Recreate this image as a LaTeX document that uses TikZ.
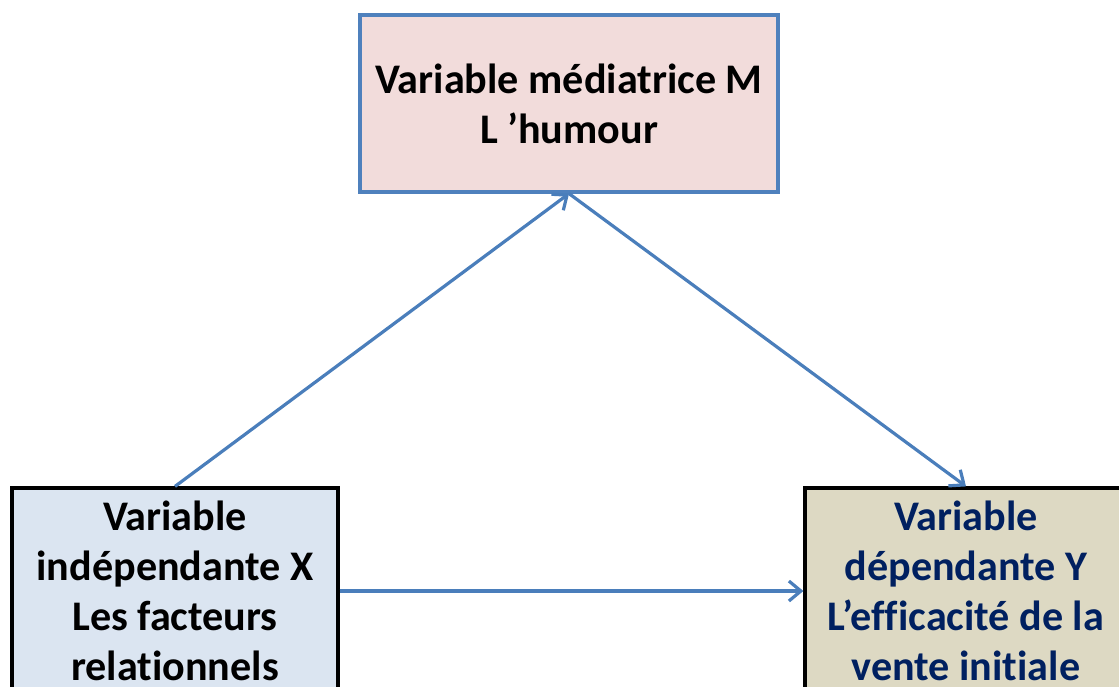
\documentclass[tikz,border=0pt]{standalone}
\usepackage{fontspec}
\setmainfont{Carlito}[Ligatures=NoCommon]
\usetikzlibrary{arrows.meta}
\definecolor{borderblue}{RGB}{79,129,189}
\definecolor{arrowblue}{RGB}{74,126,187}
\definecolor{pinkfill}{RGB}{242,220,219}
\definecolor{bluefill}{RGB}{219,229,241}
\definecolor{tanfill}{RGB}{221,217,195}
\definecolor{navytext}{RGB}{0,32,96}
\begin{document}
\begin{tikzpicture}[
        x=0.75pt, y=-0.75pt,
        every node/.style={font=\bfseries\fontsize{31.6}{37.5}\selectfont, align=center, inner sep=0pt},
        box/.style={rectangle, draw, line width=2.4pt},
        link/.style={draw=arrowblue, line width=2.4pt, -{Straight Barb[length=9pt, width=15pt, line width=2.4pt]}},
      ]

      \useasboundingbox (0,0) rectangle (1119,686);
      \clip (0,0) rectangle (1119,686);

      \node[box, draw=borderblue, fill=pinkfill, minimum width=313.5pt, minimum height=132.75pt] (med) at (569,103.5)
        {Variable médiatrice M\\L ’humour};
      \node[box, draw=black, fill=bluefill, minimum width=244.5pt, minimum height=154.5pt] (indep) at (175,591)
        {Variable\\indépendante X\\Les facteurs\\relationnels};
      \node[box, draw=black, fill=tanfill, text=navytext, minimum width=241.5pt, minimum height=154.5pt] (dep) at (966,591)
        {Variable\\dépendante Y\\L’efficacité de la\\vente initiale};

      \draw[link] (indep.north) -- (med.south);
      \draw[link] (med.south) -- (dep.north);
      \draw[link] (indep.east) -- (dep.west);

    \end{tikzpicture}
\end{document}
